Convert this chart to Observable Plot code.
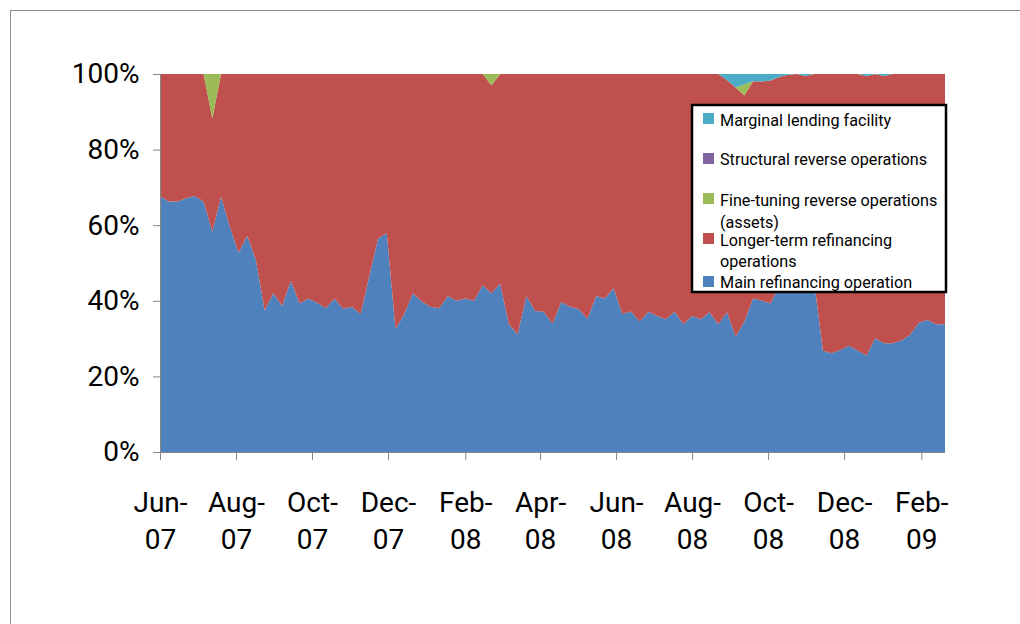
<!DOCTYPE html>
<html><head><meta charset="utf-8">
<script src="https://cdn.jsdelivr.net/npm/d3@7"></script>
<script src="https://cdn.jsdelivr.net/npm/@observablehq/plot@0.6"></script>
<style>
body{margin:0;background:#fff;}
#wrap{position:relative;width:1020px;height:624px;overflow:hidden;background:#fff;}
#frame{position:absolute;left:10px;top:10px;width:1030px;height:640px;border-top:1px solid #8c8c8c;border-left:1px solid #8c8c8c;}
#chart{position:absolute;left:0;top:0;}
#legend{position:absolute;left:0;top:0;}
</style>
</head><body>
<div id="wrap"><div id="frame"></div><div id="chart"></div><svg id="legend" width="1020" height="624"></svg></div>
<script>
// ---- data ----
const series = [
  "Main refinancing operation",
  "Longer-term refinancing operations",
  "Fine-tuning reverse operations (assets)",
  "Structural reverse operations",
  "Marginal lending facility"
];
const colors = ["#4F81BD", "#C0504D", "#9BBB59", "#8064A2", "#4BACC6"];
const firstDate = "2007-06-01";
const lastDate = "2009-02-20";
// weekly shares (%) of main refinancing operations
const mainShare = [
  67.7, 66.3, 66.3, 67.1, 67.7, 66.2, 58.3, 67.5, 59.6, 52.7,
  57.2, 50.8, 37.4, 42.0, 38.6, 45.3, 39.3, 40.6, 39.5, 38.0,
  40.6, 37.9, 38.4, 36.5, 46.5, 56.5, 57.9, 32.5, 36.5, 42.0,
  39.8, 38.4, 38.0, 41.3, 40.0, 40.6, 40.0, 44.1, 42.0, 44.6,
  33.8, 31.1, 41.3, 37.3, 37.1, 33.9, 39.7, 38.4, 37.8, 35.2,
  41.3, 40.6, 43.3, 36.5, 37.2, 34.5, 37.1, 36.0, 35.1, 37.1,
  33.8, 36.0, 35.1, 37.0, 33.8, 37.0, 30.5, 34.5, 40.6, 40.0,
  39.3, 44.0, 47.0, 49.0, 48.0, 45.0, 26.8, 26.1, 27.0, 28.1,
  26.8, 25.5, 30.1, 28.8, 28.8, 29.5, 31.0, 34.2, 34.9, 33.8,
  33.8
];
// fine-tuning reverse operations share (%), nonzero weeks only
const fineTuning = {6: 11.8, 38: 3.0, 67: 2.9};
// structural reverse operations share (%)
const structural = {};
// marginal lending facility share (%)
const marginal = {65: 1.6, 66: 3.6, 67: 2.7, 68: 1.9, 69: 2.0, 70: 1.7, 71: 0.8, 72: 0.2, 74: 0.5, 81: 0.5, 83: 0.5};
const yTicks = [0, 20, 40, 60, 80, 100];
const xTickDates = ["2007-06-01","2007-08-01","2007-10-01","2007-12-01","2008-02-01","2008-04-01",
                    "2008-06-01","2008-08-01","2008-10-01","2008-12-01","2009-02-01"];

// ---- table ----
const start = new Date(firstDate + "T00:00:00Z");
const end = new Date(lastDate + "T00:00:00Z");
const dates = d3.utcFriday.range(start, d3.utcDay.offset(end, 1));
const table = [];
dates.forEach((date, i) => {
  const m = mainShare[i];
  const f = fineTuning[i] || 0;
  const s = structural[i] || 0;
  const g = marginal[i] || 0;
  const l = 100 - m - f - s - g;
  [m, l, f, s, g].forEach((v, k) => table.push({date, series: series[k], value: v}));
});

const font = "Roboto, 'Liberation Sans', sans-serif";
const fmt = d3.utcFormat("%b-\n%y");

const chart = Plot.plot({
  width: 1020, height: 624,
  marginLeft: 160, marginRight: 75, marginTop: 74, marginBottom: 172,
  style: {fontFamily: font, background: "transparent", overflow: "visible"},
  x: {type: "utc", domain: [start, end], label: null},
  y: {domain: [0, 100], label: null},
  color: {domain: series, range: colors},
  marks: [
    Plot.areaY(table, {x: "date", y: "value", fill: "series", order: series, curve: "linear"}),
    Plot.ruleX([start], {stroke: "#868686"}),
    Plot.ruleY([0], {stroke: "#868686"}),
    Plot.axisY({ticks: yTicks, tickFormat: d => d + "%", fontSize: 28, tickSize: 7, tickPadding: 14,
                stroke: "#868686", fill: "#000", label: null}),
    Plot.axisX({ticks: xTickDates.map(d => new Date(d + "T00:00:00Z")), tickFormat: fmt, fontSize: 28,
                tickSize: 8, tickPadding: 25, lineHeight: 1.33, stroke: "#868686", fill: "#000", label: null})
  ]
});
document.getElementById("chart").appendChild(chart);

// ---- legend ----
const lg = d3.select("#legend");
lg.append("rect").attr("x", 692).attr("y", 105).attr("width", 254).attr("height", 187)
  .attr("fill", "#fff").attr("stroke", "#000").attr("stroke-width", 2.5);
const legendItems = [
  {k: 4, sy: 113, lines: [["Marginal lending facility", 126]]},
  {k: 3, sy: 153, lines: [["Structural reverse operations", 165]]},
  {k: 2, sy: 193, lines: [["Fine-tuning reverse operations", 206], ["(assets)", 228]]},
  {k: 1, sy: 233, lines: [["Longer-term refinancing", 246], ["operations", 267]]},
  {k: 0, sy: 276, lines: [["Main refinancing operation", 288]]}
];
legendItems.forEach(it => {
  lg.append("rect").attr("x", 703).attr("y", it.sy).attr("width", 11).attr("height", 11).attr("fill", colors[it.k]);
  it.lines.forEach(([t, y]) => {
    lg.append("text").attr("x", 720).attr("y", y).text(t)
      .attr("font-family", font).attr("font-size", 16.2).attr("fill", "#000");
  });
});
</script>
</body></html>
